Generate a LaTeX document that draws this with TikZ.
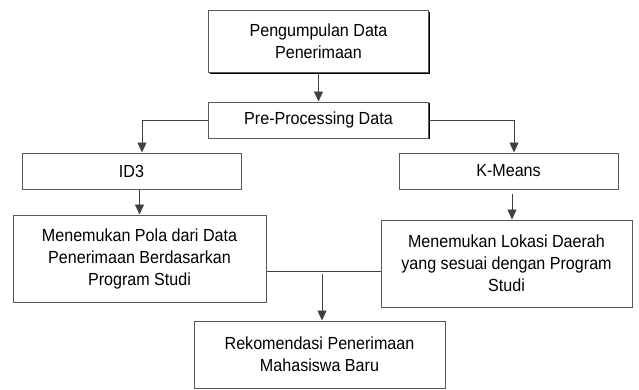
\documentclass[tikz,border=0pt]{standalone}
\usepackage{fontspec}
\setmainfont{Liberation Sans}[FakeStretch=0.92]
\usepackage{tikz}
\usetikzlibrary{positioning,arrows.meta,shadows,calc}
\usepackage{xcolor}

\begin{document}
\begin{tikzpicture}[x=1pt, y=-1pt,
    kotak/.style={draw=black!65, line width=1pt, fill=white, inner sep=0pt, align=center,
      font=\fontsize{17.5}{22}\selectfont,
      drop shadow={shadow xshift=1.2pt, shadow yshift=-1.2pt, fill=black, opacity=1}},
    garis/.style={draw=black!75, line width=0.9pt},
    panah/.style={garis, -{Triangle[length=10pt, width=9pt]}}]
  \useasboundingbox (0,0) rectangle (639,389);
  \foreach \name/\x/\y/\w/\h/\txt in {
      kumpul/318.5/41.5/220/62/{Pengumpulan Data\\Penerimaan},
      prepro/318.5/120/220/36/{Pre-Processing Data},
      id3/131.5/171/219/36/{ID3},
      kmeans/508.5/171/219/36/{K-Means},
      pola/139.5/258.5/253/87/{Menemukan Pola dari Data\\Penerimaan Berdasarkan\\Program Studi},
      lokasi/506.5/263.5/251/87/{Menemukan Lokasi Daerah\\yang sesuai dengan Program\\Studi},
      rekom/319.5/354.5/251/67/{Rekomendasi Penerimaan\\Mahasiswa Baru}} {
    \node[kotak, minimum width=\w, minimum height=\h] (\name) at (\x,\y) {\txt};
  }
  \coordinate (gabung) at (322,271);
  \draw[panah] (kumpul.south) -- (prepro.north);
  \draw[panah] (prepro.west) -| ([xshift=10.5pt]id3.north);
  \draw[panah] (prepro.east) -| ([xshift=5.5pt]kmeans.north);
  \draw[panah] (id3.south -| pola.north) -- (pola.north);
  \draw[panah, shorten <=4pt] ([xshift=3.5pt]kmeans.south) -- ([xshift=3.5pt]kmeans.south |- lokasi.north);
  \draw[garis] (pola.east |- gabung) -- (lokasi.west |- gabung);
  \draw[panah] ([yshift=-3pt]gabung) -- (rekom.north -| gabung);
\end{tikzpicture}
\end{document}
